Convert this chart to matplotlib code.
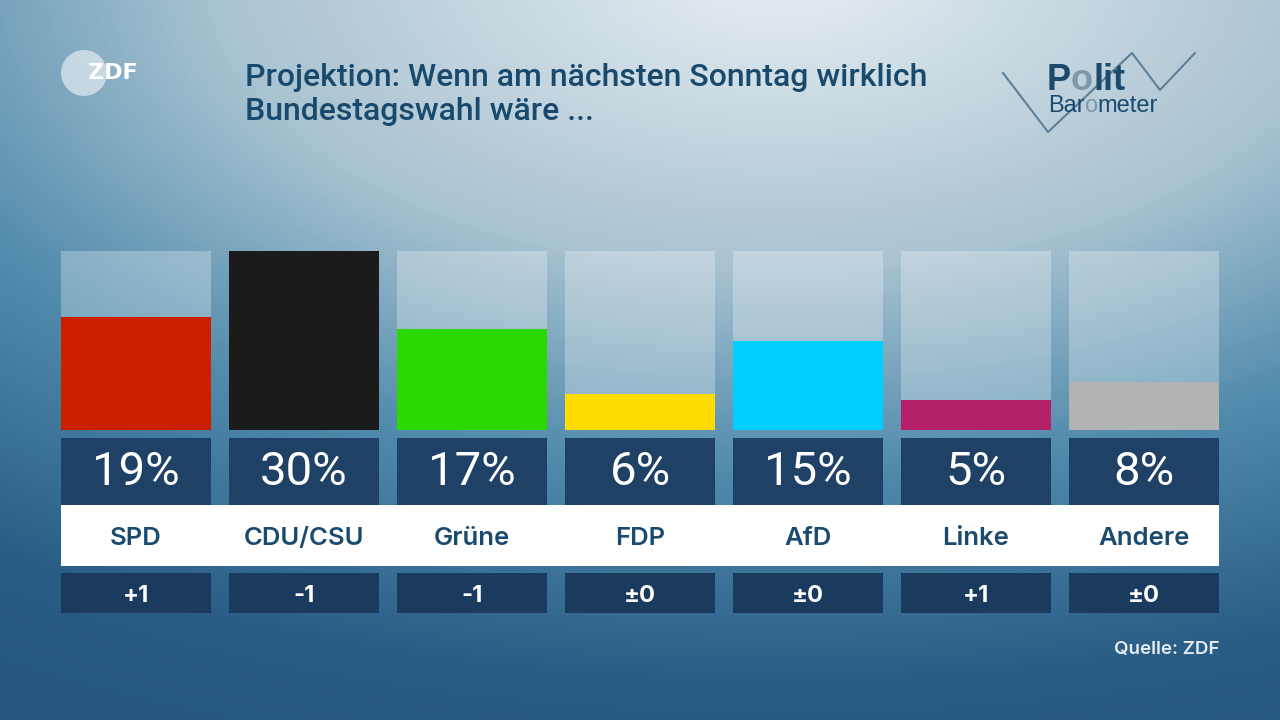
import numpy as np
import matplotlib
matplotlib.use("Agg")
import matplotlib.pyplot as plt
from matplotlib.colors import LinearSegmentedColormap
from matplotlib.patches import Circle, Rectangle

parties = ["SPD", "CDU/CSU", "Grüne", "FDP", "AfD", "Linke", "Andere"]
values = [19, 30, 17, 6, 15, 5, 8]
changes = ["+1", "-1", "-1", "±0", "±0", "+1", "±0"]
colors = ["#cc1f00", "#1b1b1b", "#2bd900", "#ffdc00", "#00d0ff", "#b4216a", "#b3b3b3"]

title_lines = ["Projektion: Wenn am nächsten Sonntag wirklich", "Bundestagswahl wäre ..."]
source = "Quelle: ZDF"

W, H = 1280, 720
fig = plt.figure(figsize=(12.8, 7.2), dpi=100)
ax = fig.add_axes([0, 0, 1, 1])
ax.set_xlim(0, W)
ax.set_ylim(H, 0)
ax.axis("off")

# background gradient
yy, xx = np.mgrid[0:H, 0:W]
t = np.sqrt(((xx - 780) / 800.0) ** 2 + ((yy + 30) / 420.0) ** 2)
bg = LinearSegmentedColormap.from_list("bg", [
    (0.0, "#e8eef2"), (0.7 / 2.2, "#a9c3d1"), (1.2 / 2.2, "#4f8aab"),
    (1.7 / 2.2, "#2a5d85"), (1.0, "#225380")])
ax.imshow(np.clip(t / 2.2, 0, 1), cmap=bg, vmin=0, vmax=1,
          extent=(0, W, H, 0), aspect="auto", zorder=0)

# layout
x0, step, bw = 136, 168, 150
xs = [x0 + step * i for i in range(len(parties))]
base, full = 430, 179
scale = full / 30.0

ax.bar(xs, [-full] * len(xs), bottom=base, width=bw, color="white", alpha=0.28,
       linewidth=0, zorder=1)
ax.bar(xs, [-v * scale for v in values], bottom=base, width=bw, color=colors,
       linewidth=0, zorder=2)
ax.bar(xs, [67] * len(xs), bottom=438, width=bw, color="#1e4165", linewidth=0, zorder=2)
ax.add_patch(Rectangle((61, 505), 1158, 61, color="white", zorder=3, linewidth=0))
ax.bar(xs, [40] * len(xs), bottom=573, width=bw, color="#1a3a5e", linewidth=0, zorder=2)

for x, v, p, c in zip(xs, values, parties, changes):
    ax.text(x, 472, f"{v}%", ha="center", va="center", color="white",
            fontsize=34, family="Roboto", zorder=4)
    ax.text(x, 545, p, ha="center", va="baseline", color="#1a4a6e",
            fontsize=18.5, family="Inter", fontweight="semibold", zorder=4)
    ax.text(x, 602, c, ha="center", va="baseline", color="white",
            fontsize=17, family="Inter", fontweight="bold", zorder=4)

ax.text(1219, 654, source, ha="right", va="baseline", color="#e4ecf1",
        fontsize=13.5, family="Inter", fontweight="semibold", zorder=4)

# title
for i, line in enumerate(title_lines):
    ax.text(245, 86 + 34 * i, line, ha="left", va="baseline", color="#184a6e",
            fontsize=23, family="Roboto", fontweight="medium", zorder=4)

# ZDF logo
ax.add_patch(Circle((84, 73), 23, color="#dde7ed", alpha=0.75, zorder=3, linewidth=0))
ax.text(88, 73, "ZDF", ha="left", va="center", color="white", fontsize=16,
        family="DejaVu Sans", fontweight="semibold", zorder=4)

# Politbarometer logo
ax.plot([1003, 1048, 1132, 1160, 1195], [73, 132, 53, 90, 53], color="#5d7f97",
        linewidth=1.5, zorder=3)
dark, light = "#1a4a6e", "#7d98ab"
fig.canvas.draw()
r = fig.canvas.get_renderer()


def pieces(x, y, parts, **kw):
    for s, col in parts:
        tx = ax.text(x, y, s, color=col, ha="left", va="baseline", zorder=4, **kw)
        bb = tx.get_window_extent(renderer=r)
        x += bb.width


pieces(1047, 90, [("P", dark), ("o", light), ("lit", dark)], fontsize=26,
       family="Liberation Sans", fontweight="bold")
pieces(1048, 112, [("Bar", dark), ("o", light), ("meter", dark)], fontsize=17,
       family="Liberation Sans")

fig.savefig("out.png", dpi=100)
